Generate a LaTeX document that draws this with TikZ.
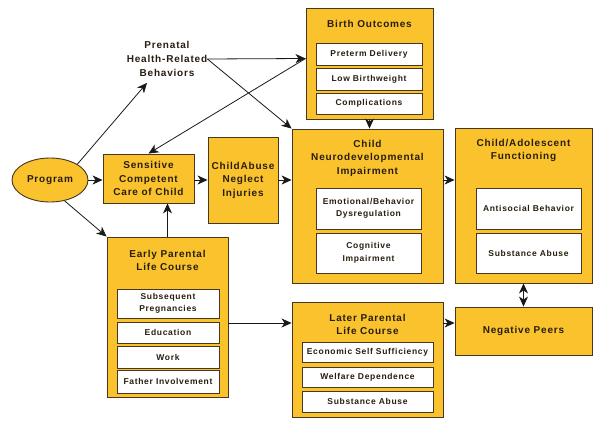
\documentclass[tikz,border=0pt]{standalone}
\usepackage{fontspec}
\setmainfont{Liberation Sans}[LetterSpace=8]
\usetikzlibrary{shapes.geometric,arrows.meta,calc}
\definecolor{boxfill}{RGB}{250,194,45}
\definecolor{boxline}{RGB}{70,55,30}
\definecolor{txtc}{RGB}{40,30,15}
\tikzset{
  bigbox/.style={draw=boxline, fill=boxfill, line width=0.9pt, inner sep=0pt,
    font=\fontsize{10}{13.5}\selectfont\bfseries, text=txtc, align=center},
  whitebox/.style={draw=boxline, fill=white, line width=0.9pt, inner sep=0pt,
    font=\fontsize{8.5}{12.5}\selectfont\bfseries, text=txtc, align=center},
  ttl/.style={font=\fontsize{10}{13.5}\selectfont\bfseries, text=txtc, align=center, inner sep=0pt},
  tip/.style={Stealth[length=10pt,width=9pt,inset=3pt]},
  arr/.style={draw=black!90, line width=0.8pt, -{Stealth[length=10pt,width=9pt,inset=3pt]}},
  darr/.style={draw=black!90, line width=0.8pt, {Stealth[length=10pt,width=9pt,inset=3pt]}-{Stealth[length=10pt,width=9pt,inset=3pt]}},
}
\begin{document}
\begin{tikzpicture}[x=1pt,y=-1pt]
\useasboundingbox (0,0) rectangle (600,423);

% Program
\node[bigbox, ellipse, minimum width=76pt, minimum height=44pt] (prog) at (50,180) {Program};

% Prenatal text
\node[ttl, font=\fontsize{10}{14}\selectfont\bfseries] (pre) at (167,59) {Prenatal\\Health-Related\\Behaviors};

% Birth outcomes
\node[bigbox, minimum width=127pt, minimum height=111pt] (bo) at (369.5,63.5) {};
\node[ttl] (boT) at (369.5,24) {Birth Outcomes};
\node[whitebox, minimum width=106pt, minimum height=22pt] (bo1) at (369,54) {Preterm Delivery};
\node[whitebox, minimum width=106pt, minimum height=22pt] (bo2) at (369,79) {Low Birthweight};
\node[whitebox, minimum width=106pt, minimum height=21pt] (bo3) at (369,103.5) {Complications};

% Sensitive care
\node[bigbox, minimum width=91pt, minimum height=49pt] (sc) at (148.5,178.5) {Sensitive\\Competent\\Care of Child};

% Child abuse
\node[bigbox, minimum width=70pt, minimum height=86pt] (ca) at (243,180) {ChildAbuse\\Neglect\\Injuries};

% Child neurodevelopmental
\node[bigbox, minimum width=151pt, minimum height=154pt] (cn) at (367.5,206) {};
\node[ttl] (cnT) at (367.5,158) {Child\\Neurodevelopmental\\Impairment};
\node[whitebox, minimum width=105pt, minimum height=41pt] (cn1) at (368.5,208.5) {Emotional/Behavior\\Dysregulation};
\node[whitebox, minimum width=105pt, minimum height=40pt] (cn2) at (368.5,253) {Cognitive\\Impairment};

% Child/Adolescent
\node[bigbox, minimum width=137pt, minimum height=155pt] (cad) at (523.5,205.5) {};
\node[ttl] (cadT) at (523.5,150.5) {Child/Adolescent\\Functioning};
\node[whitebox, minimum width=105pt, minimum height=41pt] (cad1) at (528.5,208.5) {Antisocial Behavior};
\node[whitebox, minimum width=105pt, minimum height=40pt] (cad2) at (528.5,253) {Substance Abuse};

% Early parental
\node[bigbox, minimum width=121pt, minimum height=160pt] (ep) at (167.5,317) {};
\node[ttl] (epT) at (167.5,260.5) {Early Parental\\Life Course};
\node[whitebox, minimum width=102pt, minimum height=29pt] (ep1) at (168,303.5) {Subsequent\\Pregnancies};
\node[whitebox, minimum width=102pt, minimum height=21pt] (ep2) at (168,332.5) {Education};
\node[whitebox, minimum width=102pt, minimum height=22pt] (ep3) at (168,357) {Work};
\node[whitebox, minimum width=102pt, minimum height=23pt] (ep4) at (168,381.5) {Father Involvement};

% Later parental
\node[bigbox, minimum width=151pt, minimum height=115pt] (lp) at (367.5,359.5) {};
\node[ttl] (lpT) at (367.5,324.5) {Later Parental\\Life Course};
\node[whitebox, minimum width=131pt, minimum height=20pt] (lp1) at (367.5,352) {Economic Self Sufficiency};
\node[whitebox, minimum width=131pt, minimum height=20pt] (lp2) at (367.5,377) {Welfare Dependence};
\node[whitebox, minimum width=131pt, minimum height=21pt] (lp3) at (367.5,401.5) {Substance Abuse};

% Negative peers
\node[bigbox, minimum width=137pt, minimum height=48pt] (np) at (523.5,331) {Negative Peers};

% Connectors
\draw[arr] (prog.30) -- ($(pre.south)+(-20,6)$);
\draw[arr] (pre.east) -- ($(bo.west)+(0,-5)$);
\draw[arr] (pre.east) -- (cn.north west);
\draw[arr] ($(bo.west)+(0,-5)$) -- (sc.north);
\draw[arr] (bo.south) -- (bo.south |- cn.north);
\draw[arr] (prog.east) -- (prog.east -| sc.west);
\draw[arr] (sc.east |- ca.west) -- (ca.west);
\draw[arr] (ca.east) -- (ca.east -| cn.west);
\draw[arr] (ca.east -| cn.east) -- (ca.east -| cad.west);
\draw[arr] (ep.north) -- (ep.north |- sc.south);
\draw[arr] (prog.-55) -- (ep.north west);
\coordinate (ly) at ($(ep.east)+(0,6)$);
\draw[arr] (ly) -- (ly -| lp.west);
\draw[arr] (ly -| lp.east) -- (ly -| np.west);
\draw[darr] (cad.south) -- (np.north);
\end{tikzpicture}
\end{document}
